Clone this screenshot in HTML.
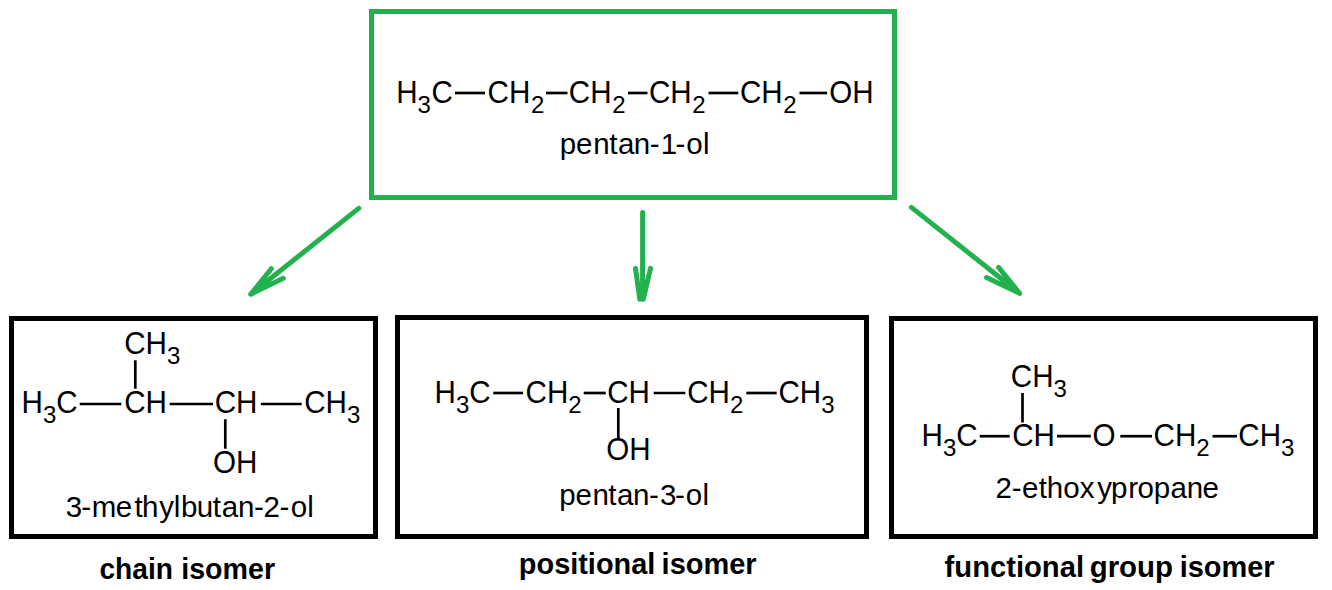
<!DOCTYPE html>
<html lang="en">
<head>
<meta charset="utf-8">
<title>Isomers of pentan-1-ol</title>
<style>
html,body{margin:0;padding:0;background:#fff;}
body{width:1332px;height:590px;overflow:hidden;position:relative;font-family:"Liberation Sans",Arial,sans-serif;}
.box{position:absolute;box-sizing:border-box;border:5px solid #000;background:#fff;}
#top{left:369px;top:9px;width:528px;height:191px;border-color:#22b14c;}
#b1{left:9px;top:316px;width:369px;height:223px;}
#b2{left:395px;top:315px;width:474px;height:224px;}
#b3{left:889px;top:316px;width:429px;height:223px;}
svg{position:absolute;left:0;top:0;}
svg text{font-family:"Liberation Sans",Arial,sans-serif;fill:#000;}
</style>
</head>
<body>
<div class="box" id="top"></div>
<div class="box" id="b1"></div>
<div class="box" id="b2"></div>
<div class="box" id="b3"></div>
<svg width="1332" height="590" viewBox="0 0 1332 590">
<g id="arrows">
<g stroke="#22b14c" stroke-width="5" stroke-linecap="round" fill="none">
<path d="M358.7 208.4 L250.7 294.2 M250.7 294.2 L271.3 268.7 M250.7 294.2 L283.3 278.3"/>
<path d="M642.6 212.4 L642.6 299.2 M635.5 268.4 L639.8 299.2 M650.5 268.4 L643.3 299.2"/>
<path d="M911.4 207.4 L1019.6 293.3 M1019.6 293.3 L998.6 267.4 M1019.6 293.3 L986.5 277.5"/>
</g>
</g>
<g id="bonds" stroke="#000" stroke-width="2.7">
<line x1="455" y1="93" x2="485" y2="93"/>
<line x1="546" y1="93" x2="567.5" y2="93"/>
<line x1="628" y1="93" x2="647.5" y2="93"/>
<line x1="708.5" y1="93" x2="738.3" y2="93"/>
<line x1="799.5" y1="93" x2="827.1" y2="93"/>
<line x1="79.7" y1="404" x2="121.3" y2="404"/>
<line x1="169.7" y1="404" x2="213" y2="404"/>
<line x1="260.8" y1="404" x2="301.7" y2="404"/>
<line x1="135.3" y1="360.3" x2="135.3" y2="388.7"/>
<line x1="225.3" y1="419.2" x2="225.3" y2="448.7"/>
<line x1="493.3" y1="393" x2="523" y2="393"/>
<line x1="583.7" y1="393" x2="605.8" y2="393"/>
<line x1="653.7" y1="393" x2="685.3" y2="393"/>
<line x1="746.3" y1="393" x2="776.7" y2="393"/>
<line x1="618.3" y1="408" x2="618.3" y2="438.0"/>
<line x1="979.7" y1="436.2" x2="1009.7" y2="436.2"/>
<line x1="1057" y1="436.2" x2="1090.8" y2="436.2"/>
<line x1="1120.3" y1="436.2" x2="1152" y2="436.2"/>
<line x1="1212.5" y1="436.2" x2="1237" y2="436.2"/>
<line x1="1022.5" y1="393" x2="1022.5" y2="422.5"/>
</g>
<g id="formulas">
<text transform="translate(396.17 103.0) scale(1 1.03)" font-size="29.6"><tspan>H</tspan><tspan font-size="24.0" dy="9.9">3</tspan><tspan dy="-9.9" dx="0.5">C</tspan></text>
<text transform="translate(487.5 103.0) scale(1 1.03)" font-size="29.6"><tspan>C</tspan><tspan>H</tspan><tspan font-size="24.0" dy="9.9" dx="0.7">2</tspan></text>
<text transform="translate(568.8 103.0) scale(1 1.03)" font-size="29.6"><tspan>C</tspan><tspan>H</tspan><tspan font-size="24.0" dy="9.9" dx="0.7">2</tspan></text>
<text transform="translate(648.9 103.0) scale(1 1.03)" font-size="29.6"><tspan>C</tspan><tspan>H</tspan><tspan font-size="24.0" dy="9.9" dx="0.7">2</tspan></text>
<text transform="translate(739.9 103.0) scale(1 1.03)" font-size="29.6"><tspan>C</tspan><tspan>H</tspan><tspan font-size="24.0" dy="9.9" dx="0.7">2</tspan></text>
<text transform="translate(829.2 103.0) scale(1 1.03)" font-size="29.6"><tspan>O</tspan><tspan>H</tspan></text>
<text transform="translate(124.2 353.7) scale(1 1.03)" font-size="29.6"><tspan>C</tspan><tspan>H</tspan><tspan font-size="24.0" dy="9.9">3</tspan></text>
<text transform="translate(21.57 412.9) scale(1 1.03)" font-size="29.6"><tspan>H</tspan><tspan font-size="24.0" dy="9.9">3</tspan><tspan dy="-9.9">C</tspan></text>
<text transform="translate(124.2 412.9) scale(1 1.03)" font-size="29.6"><tspan>C</tspan><tspan>H</tspan></text>
<text transform="translate(214.7 412.9) scale(1 1.03)" font-size="29.6"><tspan>C</tspan><tspan>H</tspan></text>
<text transform="translate(304.2 412.9) scale(1 1.03)" font-size="29.6"><tspan>C</tspan><tspan>H</tspan><tspan font-size="24.0" dy="9.9">3</tspan></text>
<text transform="translate(213.05 472.5) scale(1 1.03)" font-size="29.6"><tspan>O</tspan><tspan>H</tspan></text>
<text transform="translate(434.57 403.0) scale(1 1.03)" font-size="29.6"><tspan>H</tspan><tspan font-size="24.0" dy="9.9">3</tspan><tspan dy="-9.9">C</tspan></text>
<text transform="translate(525.6 403.0) scale(1 1.03)" font-size="29.6"><tspan>C</tspan><tspan>H</tspan><tspan font-size="24.0" dy="9.9">2</tspan></text>
<text transform="translate(607.2 403.0) scale(1 1.03)" font-size="29.6"><tspan>C</tspan><tspan>H</tspan></text>
<text transform="translate(687.2 403.0) scale(1 1.03)" font-size="29.6"><tspan>C</tspan><tspan>H</tspan><tspan font-size="24.0" dy="9.9">2</tspan></text>
<text transform="translate(778.4 403.0) scale(1 1.03)" font-size="29.6"><tspan>C</tspan><tspan>H</tspan><tspan font-size="24.0" dy="9.9">3</tspan></text>
<text transform="translate(606.3 460.4) scale(1 1.03)" font-size="29.6"><tspan>O</tspan><tspan>H</tspan></text>
<text transform="translate(1010.8 386.9) scale(1 1.03)" font-size="29.6"><tspan>C</tspan><tspan>H</tspan><tspan font-size="24.0" dy="9.9">3</tspan></text>
<text transform="translate(921.57 445.5) scale(1 1.03)" font-size="29.6"><tspan>H</tspan><tspan font-size="24.0" dy="9.9">3</tspan><tspan dy="-9.9">C</tspan></text>
<text transform="translate(1012.2 445.5) scale(1 1.03)" font-size="29.6"><tspan>C</tspan><tspan>H</tspan></text>
<text transform="translate(1092.6 445.5) scale(1 1.03)" font-size="29.6"><tspan>O</tspan></text>
<text transform="translate(1153.6 445.5) scale(1 1.03)" font-size="29.6"><tspan>C</tspan><tspan>H</tspan><tspan font-size="24.0" dy="9.9">2</tspan></text>
<text transform="translate(1238.3 445.5) scale(1 1.03)" font-size="29.6"><tspan>C</tspan><tspan>H</tspan><tspan font-size="24.0" dy="9.9">3</tspan></text>
</g>
<g id="names">
<text x="559.75 575.95 593.24 609.15 617.90 633.84 649.69 660.65 675.49 686.26 703.01" y="154.1" font-size="29.5">pentan-1-ol</text>
<text x="65.78 81.19 91.74 115.85 134.55 142.10 159.23 173.81 181.00 196.78 212.85 221.65 238.04 253.99 263.52 279.49 290.86 307.16" y="516.7" font-size="29.5">3-methylbutan-2-ol</text>
<text x="559.20 575.45 592.44 608.25 617.05 633.04 649.09 659.98 674.89 685.86 702.61" y="504.8" font-size="29.5">pentan-3-ol</text>
<text x="995.42 1011.79 1022.05 1038.70 1046.65 1063.36 1079.67 1097.13 1111.00 1128.24 1137.46 1153.70 1170.40 1186.84 1202.45" y="497.5" font-size="29.5">2-ethoxypropane</text>
</g>
<g id="captions">
<text y="579.2" font-size="29.3" font-weight="bold"><tspan x="99.48" textLength="73.51" lengthAdjust="spacingAndGlyphs">chain</tspan> <tspan x="181.19" textLength="93.83" lengthAdjust="spacingAndGlyphs">isomer</tspan></text>
<text y="573.6" font-size="29.3" font-weight="bold"><tspan x="518.83" textLength="136.47" lengthAdjust="spacingAndGlyphs">positional</tspan> <tspan x="661.58" textLength="95.06" lengthAdjust="spacingAndGlyphs">isomer</tspan></text>
<text y="576.8" font-size="29.3" font-weight="bold"><tspan x="944.62" textLength="139.42" lengthAdjust="spacingAndGlyphs">functional</tspan> <tspan x="1089.71" textLength="83.33" lengthAdjust="spacingAndGlyphs">group</tspan> <tspan x="1179.65" textLength="94.91" lengthAdjust="spacingAndGlyphs">isomer</tspan></text>
</g>
</svg>
</body>
</html>
